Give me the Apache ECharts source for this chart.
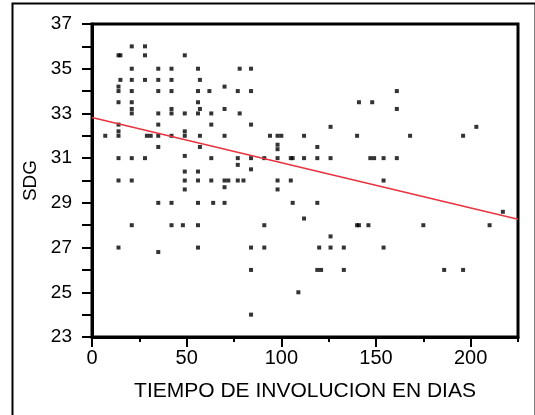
<!DOCTYPE html>
<html>
<head>
<meta charset="utf-8">
<script src="https://cdn.jsdelivr.net/npm/echarts@6/dist/echarts.min.js"></script>
<style>html,body{margin:0;padding:0;background:#fff}#c{width:535px;height:415px}</style>
</head>
<body>
<div id="c"></div>
<script>
// Scatter data: TIEMPO DE INVOLUCION EN DIAS (x) vs SDG (y)
const tiempo = [
  21,28,
  14,15,28,49,
  21,35,42,56,78,84,
  15,21,28,35,42,57,
  14,70,
  14,21,35,42,56,62,77,84,161,
  14,21,56,141,148,
  21,42,57,70,161,
  21,35,42,49,56,63,78,
  14,35,63,84,
  126,203,
  14,49,
  7,14,29,31,35,42,49,57,70,94,98,100,112,140,168,196,
  98,
  35,57,119,
  98,
  49,
  14,21,28,63,77,84,91,98,105,106,112,119,126,147,149,154,161,
  77,
  84,
  49,56,
  14,21,49,56,63,70,72,77,80,98,105,154,
  70,
  49,98,
  35,42,56,64,70,106,119,
  217,
  112,
  21,42,48,56,91,140,141,146,175,210,
  126,
  14,56,84,91,120,126,133,154,
  35,
  84,119,121,133,186,196,
  109,
  84
];
const sdg = [
  36,36,
  35.6,35.6,35.6,35.6,
  35,35,35,35,35,35,
  34.5,34.5,34.5,34.5,34.5,34.5,
  34.2,34.2,
  34,34,34,34,34,34,34,34,34,
  33.5,33.5,33.5,33.5,33.5,
  33.2,33.2,33.2,33.2,33.2,
  33,33,33,33,33,33,33,
  32.5,32.5,32.5,32.5,
  32.4,32.4,
  32.2,32.2,
  32,32,32,32,32,32,32,32,32,32,32,32,32,32,32,32,
  31.6,
  31.5,31.5,31.5,
  31.4,
  31.1,
  31,31,31,31,31,31,31,31,31,31,31,31,31,31,31,31,31,
  30.7,
  30.5,
  30.4,30.4,
  30,30,30,30,30,30,30,30,30,30,30,30,
  29.7,
  29.6,29.6,
  29,29,29,29,29,29,29,
  28.6,
  28.3,
  28,28,28,28,28,28,28,28,28,28,
  27.5,
  27,27,27,27,27,27,27,27,
  26.8,
  26,26,26,26,26,26,
  25,
  24
];
// Fitted line endpoints
const fitX = [0, 225];
const fitY = [32.82, 28.27];
// Tick labels
const xMajorTicks = [0, 50, 100, 150, 200];
const yLabelTicks = [23, 25, 27, 29, 31, 33, 35, 37];

const points = tiempo.map((x, i) => [x, sdg[i]]);
const fitLine = fitX.map((x, i) => [x, fitY[i]]);
const font = 'Liberation Sans, Arial, sans-serif';

const chart = echarts.init(document.getElementById('c'), null, {renderer: 'canvas'});
chart.setOption({
  animation: false,
  backgroundColor: '#fff',
  graphic: [{
    type: 'rect', left: 10, top: 1, silent: true,
    shape: {x: 0, y: 0, width: 523, height: 413},
    style: {fill: 'none', stroke: '#000', lineWidth: 2}
  }],
  grid: {left: 92, right: 17, top: 24, bottom: 78, show: true, borderColor: '#000', borderWidth: 3},
  xAxis: [{
    type: 'value', min: 0, max: 225, interval: 25,
    axisLine: {onZero: false, lineStyle: {color: '#000', width: 3}},
    axisTick: {length: 5, lineStyle: {color: '#000', width: 2}},
    splitLine: {show: false},
    axisLabel: {
      color: '#000', fontSize: 20, fontFamily: font, margin: 11,
      formatter: v => (xMajorTicks.indexOf(v) >= 0 ? String(v) : '')
    },
    name: 'TIEMPO DE INVOLUCION EN DIAS', nameLocation: 'middle', nameGap: 44,
    nameTextStyle: {color: '#000', fontSize: 21, fontFamily: font}
  }, {
    type: 'value', min: 0, max: 225, position: 'bottom',
    axisLine: {show: false},
    axisTick: {show: true, length: 10, customValues: xMajorTicks, lineStyle: {color: '#000', width: 2}},
    axisLabel: {show: false},
    splitLine: {show: false}
  }],
  yAxis: {
    type: 'value', min: 23, max: 37, interval: 1,
    axisLine: {onZero: false, lineStyle: {color: '#000', width: 3}},
    axisTick: {length: 10, lineStyle: {color: '#000', width: 2}},
    splitLine: {show: false},
    axisLabel: {
      color: '#000', fontSize: 19, fontFamily: font, margin: 20,
      formatter: v => (yLabelTicks.indexOf(v) >= 0 ? String(v) : '')
    },
    name: 'SDG', nameLocation: 'middle', nameGap: 48,
    nameTextStyle: {color: '#000', fontSize: 19, fontFamily: font}
  },
  series: [{
    type: 'scatter', data: points, symbol: 'rect', symbolSize: 4,
    itemStyle: {color: '#000'}, z: 3
  }, {
    type: 'line', data: fitLine, symbol: 'none',
    lineStyle: {color: '#e8333f', width: 1.5}, z: 4
  }]
});
</script>
</body>
</html>
